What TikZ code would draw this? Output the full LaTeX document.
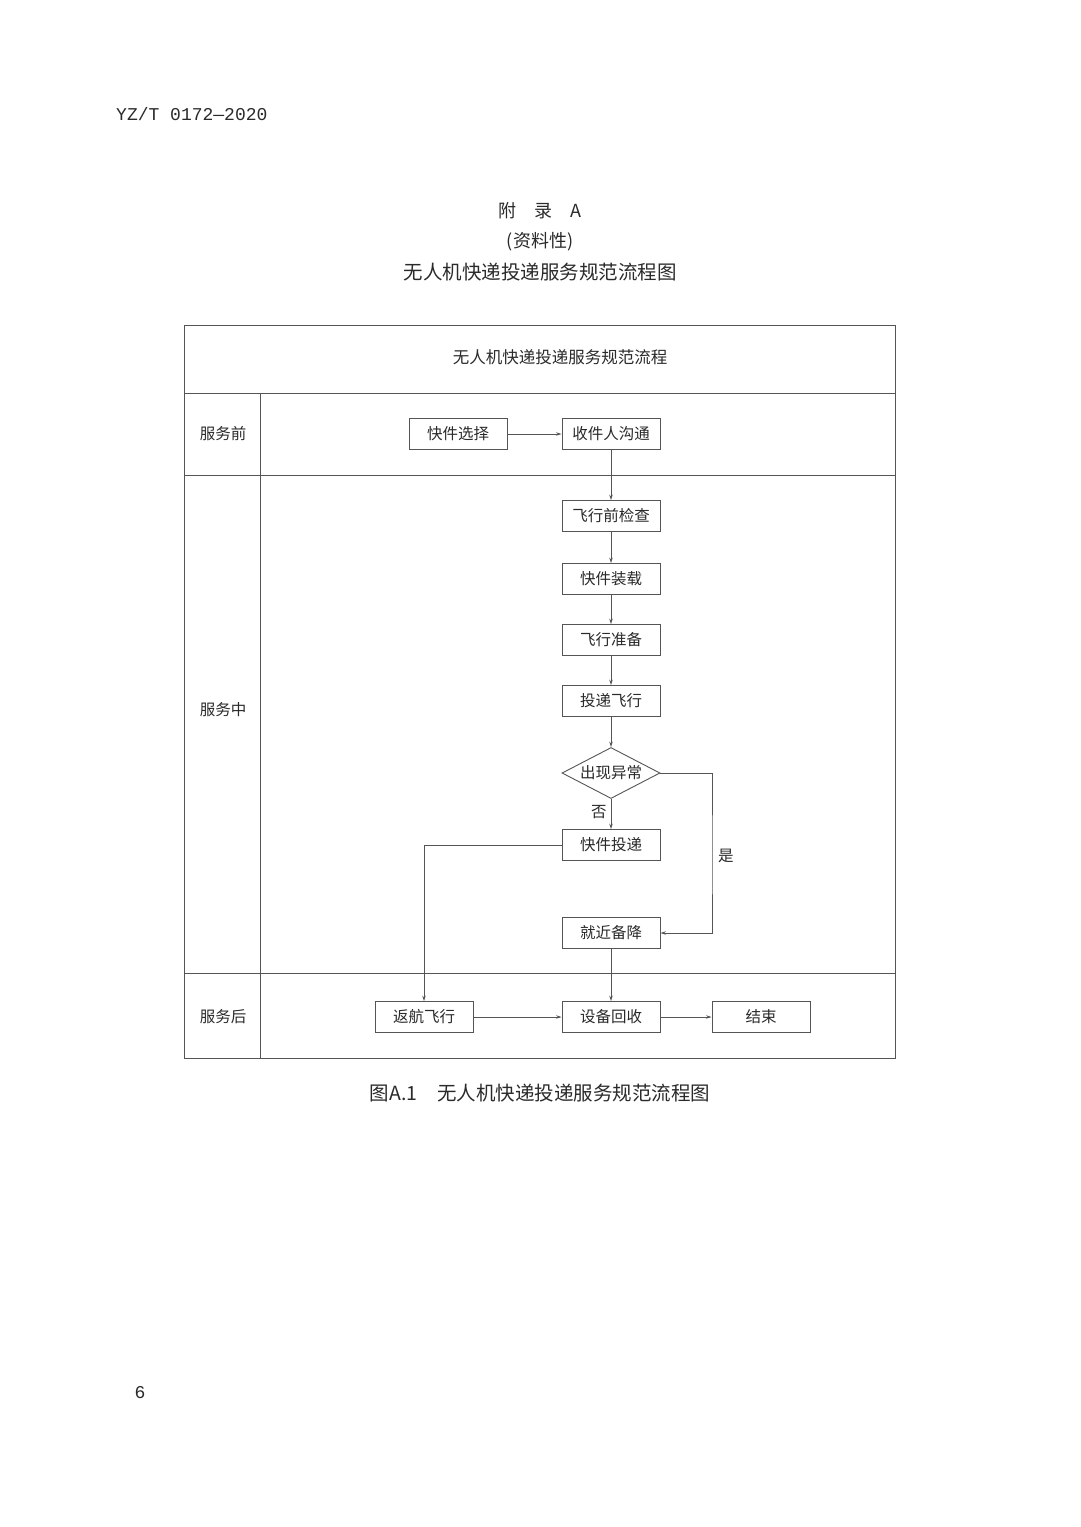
\documentclass[tikz,border=0pt]{standalone}
\usepackage{fontspec}
\setmainfont{Liberation Serif}
\newfontfamily\cjk{Noto Sans CJK SC}
\newfontfamily\monof{Liberation Mono}
\usetikzlibrary{shapes.geometric,arrows.meta}
\definecolor{ln}{HTML}{555555}
\definecolor{tx}{HTML}{2A2A2A}
\tikzset{
  stepbox/.style={draw=ln, line width=0.9pt, minimum width=98pt, minimum height=31pt, inner sep=0pt, text=tx, font=\cjk\fontsize{15.5}{15.5}\selectfont},
  decide/.style={diamond, draw=ln, line width=0.9pt, aspect=1.92, minimum width=98pt, minimum height=51pt, inner sep=0pt, text=tx, font=\cjk\fontsize{15.5}{15.5}\selectfont},
  lane/.style={text=tx, font=\cjk\fontsize{15.5}{15.5}\selectfont, inner sep=0pt},
  flow/.style={draw=ln, line width=0.8pt, -{Stealth[length=5.5pt,width=3.5pt]}},
  frame/.style={draw=ln, line width=0.9pt},
  plain/.style={text=tx, inner sep=0pt},
}
\begin{document}
\begin{tikzpicture}[x=1pt,y=-1pt]
\useasboundingbox[fill=white] (0,0) rectangle (1080,1527);
% page texts
\node[plain, anchor=west, font=\monof\fontsize{18}{18}\selectfont] (hdr) at (116,114) {YZ/T 0172—2020};
\node[plain, font=\cjk\fontsize{18}{18}\selectfont] (app) at (540,211) {附\hspace{1em}录\hspace{1em}A};
\node[plain, font=\cjk\fontsize{18}{18}\selectfont] (inf) at (540,242) {(资料性)};
\node[plain, font=\cjk\fontsize{19.5}{20}\selectfont] (ttl) at (540,272) {无人机快递投递服务规范流程图};
\node[plain, font=\cjk\fontsize{19.5}{20}\selectfont] (cap) at (540,1093) {图A.1\hspace{1em}无人机快递投递服务规范流程图};
\node[plain, font=\monof\fontsize{18}{18}\selectfont] (pg) at (140,1393) {6};
% table
\draw[frame] (184,325) rectangle (895,1058);
\draw[frame] (184,393) -- (895,393);
\draw[frame] (184,475) -- (895,475);
\draw[frame] (184,973) -- (895,973);
\draw[frame] (260,393) -- (260,1058);
\node[lane, font=\cjk\fontsize{16.5}{16.5}\selectfont] (thead) at (560,357) {无人机快递投递服务规范流程};
\node[lane] (l1) at (223,434) {服务前};
\node[lane] (l2) at (223,710) {服务中};
\node[lane] (l3) at (223,1017) {服务后};
% boxes
\node[stepbox] (kjxz) at (458,434) {快件选择};
\node[stepbox] (sjr) at (611,434) {收件人沟通};
\node[stepbox] (fxqj) at (611,516) {飞行前检查};
\node[stepbox] (kjzz) at (611,579) {快件装载};
\node[stepbox] (fxzb) at (611,640) {飞行准备};
\node[stepbox] (tdfx) at (611,701) {投递飞行};
\node[decide] (dia) at (611,773) {出现异常};
\node[stepbox] (kjtd) at (611,845) {快件投递};
\node[stepbox] (jjbj) at (611,933) {就近备降};
\node[stepbox] (fhfx) at (424,1017) {返航飞行};
\node[stepbox] (sbhs) at (611,1017) {设备回收};
\node[stepbox] (js) at (761,1017) {结束};
% connectors
\draw[flow] (kjxz) -- (sjr);
\draw[flow] (sjr) -- (fxqj);
\draw[flow] (fxqj) -- (kjzz);
\draw[flow] (kjzz) -- (fxzb);
\draw[flow] (fxzb) -- (tdfx);
\draw[flow] (tdfx) -- (dia);
\draw[flow] (dia) -- node[lane, left=4pt, pos=0.45] (no) {否} (kjtd);
\coordinate (rt) at (712,856);
\draw[flow] (dia.east) -| (rt) |- (jjbj.east);
\node[lane, anchor=west] (yes) at (718,856) {是};
\draw[flow] (kjtd.west) -| (fhfx.north);
\draw[flow] (jjbj) -- (sbhs);
\draw[flow] (fhfx) -- (sbhs);
\draw[flow] (sbhs) -- (js);
\end{tikzpicture}
\end{document}
